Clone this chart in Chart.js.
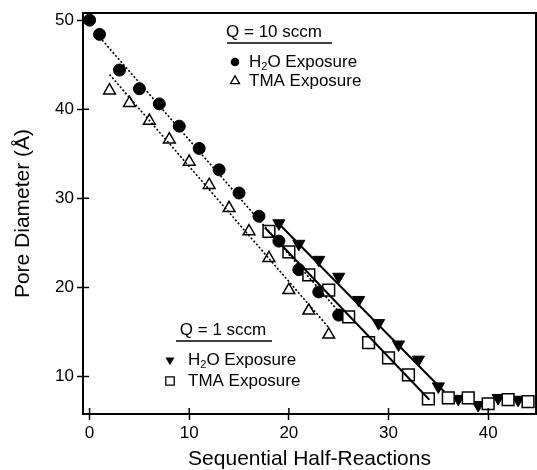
<!DOCTYPE html>
<html>
<head>
<meta charset="utf-8">
<script src="https://cdn.jsdelivr.net/npm/chart.js@4.4.0/dist/chart.umd.min.js"></script>
<style>
  html, body { margin: 0; padding: 0; background: #fff; }
</style>
</head>
<body>
<canvas id="pore-canvas" width="537" height="470"></canvas>
<script>
// Q = 10 sccm
const h2oHighX = [0, 1, 3, 5, 7, 9, 11, 13, 15, 17, 19, 21, 23, 25]
const h2oHighY = [50, 48.4, 44.4, 42.3, 40.6, 38.1, 35.6, 33.2, 30.6, 28.0, 25.2, 22.0, 19.5, 16.9]
const tmaHighX = [2, 4, 6, 8, 10, 12, 14, 16, 18, 20, 22, 24]
const tmaHighY = [42.1, 40.7, 38.7, 36.6, 34.1, 31.5, 28.9, 26.3, 23.3, 19.7, 17.4, 14.7]

// Q = 1 sccm
const h2oLowX = [19, 21, 23, 25, 27, 29, 31, 33, 35, 37, 39, 41, 43]
const h2oLowY = [27.2, 24.9, 23.1, 21.2, 18.6, 16.0, 13.6, 11.9, 8.9, 7.5, 6.8, 7.6, 7.4]
const tmaLowX = [18, 20, 22, 24, 26, 28, 30, 32, 34, 36, 38, 40, 42, 44]
const tmaLowY = [26.3, 24.0, 21.4, 19.7, 16.7, 13.8, 12.1, 10.2, 7.5, 7.6, 7.6, 6.95, 7.4, 7.2]

// linear growth fits (start, end)
const fitH2oHighX = [1, 25]
const fitH2oHighY = [48.1, 17.3]
const fitTmaHighX = [2, 24]
const fitTmaHighY = [43.9, 15.5]
const fitH2oLowX = [18.6, 35.6]
const fitH2oLowY = [27.6, 8.3]
const fitTmaLowX = [17.6, 34.1]
const fitTmaLowY = [26.7, 7.4]

const xTicks = [0, 10, 20, 30, 40]
const yTicks = [10, 20, 30, 40, 50]

const FONT = '"Liberation Sans", Arial, Helvetica, sans-serif'
Chart.defaults.font.family = FONT
Chart.defaults.color = '#000'

const toPoints = (xs, ys) => xs.map((x, i) => ({ x: x, y: ys[i] }))

function fitLine(xs, ys, dashed) {
  return {
    type: 'line',
    data: toPoints(xs, ys),
    borderColor: '#000',
    borderWidth: dashed ? 1.6 : 2,
    borderDash: dashed ? [2, 2] : [],
    pointRadius: 0,
    fill: false,
    order: 0,
  }
}

// little marker for the in-plot legends
function marker(ctx, style, x, y, r) {
  ctx.save()
  ctx.lineWidth = 1.3
  ctx.strokeStyle = '#000'
  ctx.fillStyle = '#000'
  ctx.beginPath()
  if (style === 'circle') {
    ctx.arc(x, y, r, 0, Math.PI * 2)
    ctx.fill()
  } else if (style === 'triangle') {
    ctx.moveTo(x, y - r)
    ctx.lineTo(x + r * 0.866, y + r / 2)
    ctx.lineTo(x - r * 0.866, y + r / 2)
    ctx.closePath()
    ctx.stroke()
  } else if (style === 'down') {
    ctx.moveTo(x, y + r)
    ctx.lineTo(x + r * 0.866, y - r / 2)
    ctx.lineTo(x - r * 0.866, y - r / 2)
    ctx.closePath()
    ctx.fill()
  } else {
    ctx.rect(x - r, y - r, r * 2, r * 2)
    ctx.stroke()
  }
  ctx.restore()
}

function h2oText(ctx, x, y) {
  ctx.font = '17px ' + FONT
  ctx.fillText('H', x, y)
  x += ctx.measureText('H').width
  ctx.font = '11px ' + FONT
  ctx.fillText('2', x, y + 5)
  x += ctx.measureText('2').width
  ctx.font = '17px ' + FONT
  ctx.fillText('O Exposure', x, y)
}

function legendBlock(ctx, title, titleX, titleY, lineL, lineR, rows) {
  ctx.fillStyle = '#000'
  ctx.textBaseline = 'middle'
  ctx.font = '17px ' + FONT
  ctx.textAlign = 'center'
  ctx.fillText(title, titleX, titleY)
  ctx.textAlign = 'left'
  ctx.lineWidth = 1.5
  ctx.strokeStyle = '#000'
  ctx.beginPath()
  ctx.moveTo(lineL, titleY + 11)
  ctx.lineTo(lineR, titleY + 11)
  ctx.stroke()
  rows.forEach(row => {
    marker(ctx, row.style, row.mx, row.y, row.r)
    if (row.h2o) {
      h2oText(ctx, row.tx, row.y)
    } else {
      ctx.font = '17px ' + FONT
      ctx.fillText(row.text, row.tx, row.y)
    }
  })
}

const framePlugin = {
  id: 'frame',
  afterDraw(chart) {
    const { ctx, chartArea: a, scales } = chart
    ctx.save()
    ctx.strokeStyle = '#000'
    // top and right edges of the box
    ctx.lineWidth = 2
    ctx.beginPath()
    ctx.moveTo(a.left, a.top)
    ctx.lineTo(a.right, a.top)
    ctx.lineTo(a.right, a.bottom)
    ctx.stroke()
    // ticks poke into the plot too
    ctx.lineWidth = 1.5
    ctx.beginPath()
    xTicks.forEach(v => {
      const px = scales.x.getPixelForValue(v)
      ctx.moveTo(px, a.bottom)
      ctx.lineTo(px, a.bottom - 6)
    })
    yTicks.forEach(v => {
      const py = scales.y.getPixelForValue(v)
      ctx.moveTo(a.left, py)
      ctx.lineTo(a.left + 6, py)
    })
    ctx.stroke()

    legendBlock(ctx, 'Q = 10 sccm', 274, 32, 227, 332, [
      { style: 'circle', mx: 235, tx: 249, y: 62, r: 4.3, h2o: true },
      { style: 'triangle', mx: 235, tx: 249, y: 81, r: 5.2, text: 'TMA Exposure' },
    ])
    legendBlock(ctx, 'Q = 1 sccm', 223, 330, 176, 272, [
      { style: 'down', mx: 170, tx: 188, y: 360, r: 5.2, h2o: true },
      { style: 'rect', mx: 170, tx: 188, y: 381, r: 4.2, text: 'TMA Exposure' },
    ])
    ctx.restore()
  },
}

const axisGrid = {
  display: true,
  drawOnChartArea: false,
  drawTicks: true,
  tickLength: 6,
  tickColor: '#000',
  tickWidth: 1.5,
  color: '#000',
}

new Chart(document.getElementById('pore-canvas'), {
  type: 'scatter',
  data: {
    datasets: [
      fitLine(fitH2oHighX, fitH2oHighY, true),
      fitLine(fitTmaHighX, fitTmaHighY, true),
      fitLine(fitH2oLowX, fitH2oLowY, false),
      fitLine(fitTmaLowX, fitTmaLowY, false),
      {
        label: 'TMA Exposure (1 sccm)',
        data: toPoints(tmaLowX, tmaLowY),
        pointStyle: 'rect',
        pointRadius: 8.3,
        pointBorderWidth: 1.5,
        backgroundColor: '#fff',
        borderColor: '#000',
        order: 1,
      },
      {
        label: 'H2O Exposure (1 sccm)',
        data: toPoints(h2oLowX, h2oLowY),
        pointStyle: 'triangle',
        rotation: 180,
        pointRadius: 7,
        pointBorderWidth: 1,
        backgroundColor: '#000',
        borderColor: '#000',
        order: 2,
      },
      {
        label: 'TMA Exposure (10 sccm)',
        data: toPoints(tmaHighX, tmaHighY),
        pointStyle: 'triangle',
        pointRadius: 6.8,
        pointBorderWidth: 1.5,
        backgroundColor: '#fff',
        borderColor: '#000',
        order: 3,
      },
      {
        label: 'H2O Exposure (10 sccm)',
        data: toPoints(h2oHighX, h2oHighY),
        pointStyle: 'circle',
        pointRadius: 6,
        pointBorderWidth: 1,
        backgroundColor: '#000',
        borderColor: '#000',
        order: 4,
      },
    ],
  },
  options: {
    responsive: false,
    animation: false,
    layout: {
      autoPadding: false,
      padding: { top: 13, right: 1, left: 0, bottom: 0 },
    },
    plugins: {
      legend: { display: false },
      tooltip: { enabled: false },
    },
    scales: {
      x: {
        type: 'linear',
        min: -0.66,
        max: 44.8,
        afterBuildTicks: s => { s.ticks = xTicks.map(v => ({ value: v })) },
        afterFit: s => {
          s.height = 56
          s.paddingLeft = 0
          s.paddingRight = 0
        },
        grid: axisGrid,
        border: { display: true, color: '#000', width: 2 },
        ticks: { color: '#000', font: { size: 17 }, padding: 3, maxRotation: 0 },
        title: {
          display: true,
          text: 'Sequential Half-Reactions',
          color: '#000',
          font: { size: 21 },
          padding: { top: 0, bottom: -2 },
        },
      },
      y: {
        type: 'linear',
        min: 5.8,
        max: 50.8,
        afterBuildTicks: s => { s.ticks = yTicks.map(v => ({ value: v })) },
        afterFit: s => {
          s.width = 83
          s.paddingTop = 0
          s.paddingBottom = 0
        },
        grid: axisGrid,
        border: { display: true, color: '#000', width: 2 },
        ticks: { color: '#000', font: { size: 17 }, padding: 3 },
        title: {
          display: true,
          text: 'Pore Diameter (Å)',
          color: '#000',
          font: { size: 21 },
          padding: { top: 11, bottom: 0 },
        },
      },
    },
  },
  plugins: [framePlugin],
})
</script>
</body>
</html>
